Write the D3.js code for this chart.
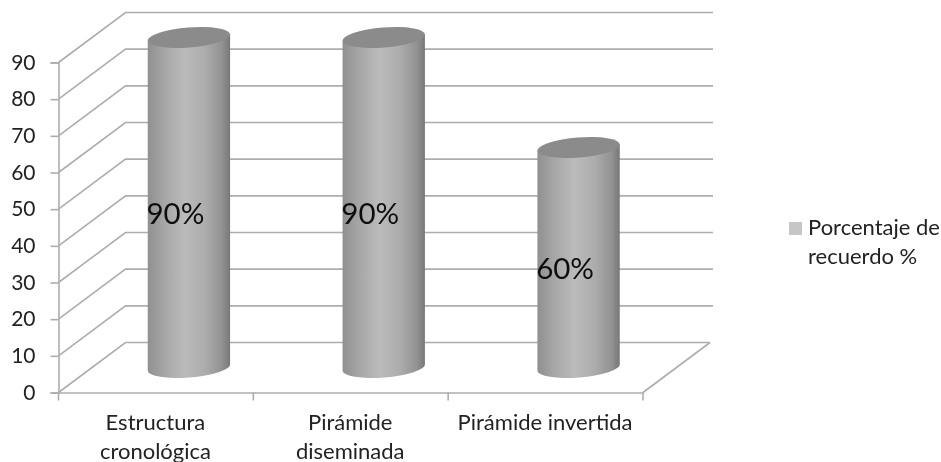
<!DOCTYPE html>
<html>
<head>
<meta charset="utf-8">
<script src="https://cdn.jsdelivr.net/npm/d3@7"></script>
<style>
  html, body { margin: 0; padding: 0; background: #fff; }
  svg { display: block; }
  text { font-family: Lato, "Open Sans", sans-serif; fill: #222; }
</style>
</head>
<body>
<div id="chart"></div>
<script>
var categories = [["Estructura", "cronológica"], ["Pirámide", "diseminada"], ["Pirámide invertida"]];
var values = [90, 90, 60];
var dataLabels = ["90%", "90%", "60%"];
var yTicks = [0, 10, 20, 30, 40, 50, 60, 70, 80, 90];
var legendLines = ["Porcentaje de", "recuerdo %"];

var width = 941, height = 462;
var gridColor = "#adadad";

// depth of the fake 3d box
var depth = {x: 67, y: -50};

var x = d3.scaleBand().domain(d3.range(categories.length)).range([58.5, 643]);
var y = d3.scaleLinear().domain([0, 90]).range([392.5, 62.5]);

var svg = d3.select("#chart").append("svg")
    .attr("width", width)
    .attr("height", height);

var defs = svg.append("defs");

var grad = defs.append("linearGradient").attr("id", "cyl");
[[0, "#909090"], [0.2, "#a6a6a6"], [0.45, "#bbbbbb"], [0.7, "#acacac"], [0.9, "#929292"], [1, "#787878"]]
  .forEach(function(s) {
    grad.append("stop").attr("offset", s[0]).attr("stop-color", s[1]);
  });

defs.append("filter").attr("id", "soft")
  .append("feGaussianBlur").attr("stdDeviation", 0.45);

var chart = svg.append("g").attr("filter", "url(#soft)");

// walls
yTicks.forEach(function(t) {
  chart.append("path")
    .attr("fill", "none")
    .attr("stroke", gridColor)
    .attr("stroke-width", 1.6)
    .attr("d", d3.line()([
      [x.range()[0], y(t)],
      [x.range()[0] + depth.x, y(t) + depth.y],
      [t == 0 ? x.range()[1] + depth.x : 713, y(t) + depth.y]
    ]));
});

// floor edge on the right
chart.append("line")
  .attr("x1", x.range()[1]).attr("y1", y(0))
  .attr("x2", x.range()[1] + depth.x).attr("y2", y(0) + depth.y)
  .attr("stroke", gridColor).attr("stroke-width", 1.6);

// y axis
var yAxis = chart.append("g")
  .attr("transform", "translate(" + x.range()[0] + ",0)")
  .call(d3.axisLeft(y).tickValues(yTicks).tickSize(8).tickPadding(15));
yAxis.selectAll("line, path").attr("stroke", gridColor).attr("stroke-width", 1.6);
yAxis.selectAll("text").style("font-size", "21px").attr("font-family", null);

// x axis, ticks sit between the categories
var xAxis = chart.append("g")
  .attr("transform", "translate(0," + y(0) + ")")
  .call(d3.axisBottom(x).tickSize(0).tickFormat(""));
xAxis.select("path").attr("stroke", gridColor).attr("stroke-width", 1.6);
x.domain().concat([categories.length]).forEach(function(i) {
  var px = i < categories.length ? x(i) : x.range()[1];
  xAxis.append("line")
    .attr("x1", px).attr("x2", px)
    .attr("y1", 0).attr("y2", 8)
    .attr("stroke", gridColor).attr("stroke-width", 1.6);
});

categories.forEach(function(lines, i) {
  lines.forEach(function(line, j) {
    chart.append("text")
      .attr("x", x(i) + x.bandwidth() / 2 - 0.5)
      .attr("y", 430 + j * 28.5)
      .attr("text-anchor", "middle")
      .style("font-size", "22px")
      .text(line);
  });
});

// cylinders
var rx = 41.3, ry = 10, tilt = -4.5;
var dx = rx * Math.cos(tilt * Math.PI / 180);
var dy = rx * Math.sin(tilt * Math.PI / 180);

values.forEach(function(v, i) {
  var cx = x(i) + x.bandwidth() / 2 + depth.x / 2 - 0.5;
  var yb = y(0) + depth.y / 2;
  var yt = y(v) + depth.y / 2;
  var arc = "A" + rx + "," + ry + " " + tilt + " 0 ";

  chart.append("path")
    .attr("fill", "url(#cyl)")
    .attr("d", "M" + (cx - dx) + "," + (yt - dy) +
      "L" + (cx - dx) + "," + (yb - dy) +
      arc + "0 " + (cx + dx) + "," + (yb + dy) +
      "L" + (cx + dx) + "," + (yt + dy) + "Z");

  chart.append("ellipse")
    .attr("rx", rx).attr("ry", ry)
    .attr("transform", "translate(" + cx + "," + yt + ") rotate(" + tilt + ")")
    .attr("fill", "#8b8b8b");

  chart.append("text")
    .attr("x", x(i) + x.bandwidth() / 2 + 19.5)
    .attr("y", y(v / 2) - 3.5)
    .attr("text-anchor", "middle")
    .style("font-size", "29.5px")
    .style("fill", "#111")
    .text(dataLabels[i]);
});

// legend
chart.append("rect")
  .attr("x", 789).attr("y", 222)
  .attr("width", 13).attr("height", 13)
  .attr("fill", "#c6c6c6");

legendLines.forEach(function(line, i) {
  chart.append("text")
    .attr("x", 808)
    .attr("y", 235 + i * 29)
    .style("font-size", "22px")
    .text(line);
});
</script>
</body>
</html>
